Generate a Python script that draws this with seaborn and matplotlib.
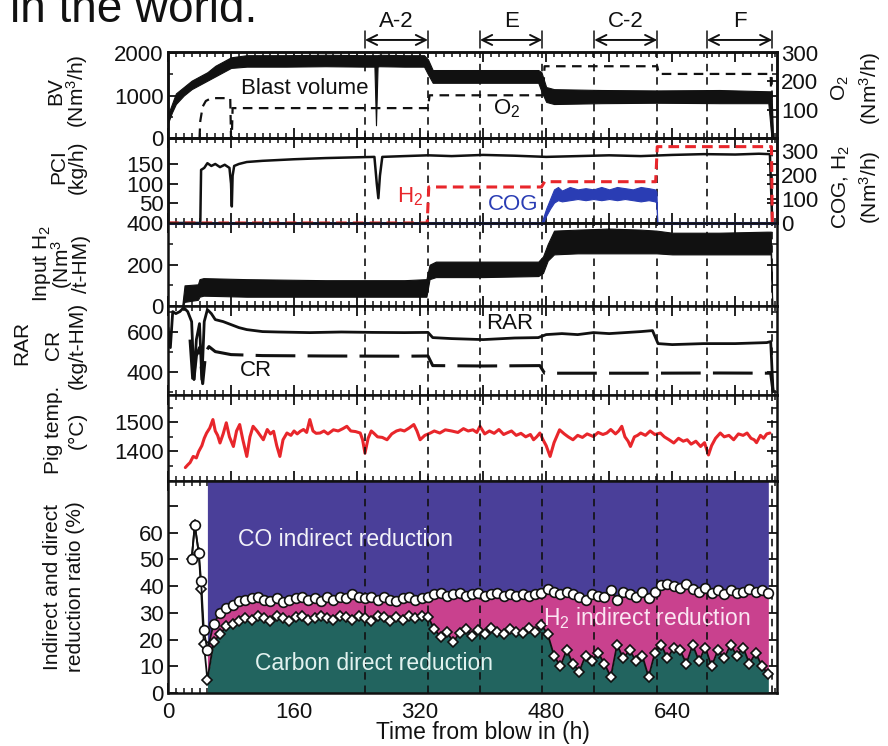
import matplotlib
matplotlib.use('Agg')
import matplotlib.pyplot as plt
import matplotlib.transforms as mtrans
from matplotlib.ticker import MultipleLocator
import seaborn as sns

# ---- phases ----
phase_lines = [250, 330, 396, 475, 541, 621, 684, 767]
phase_names = ['A-2', 'E', 'C-2', 'F']
phase_spans = [(250, 330), (396, 475), (541, 621), (684, 767)]

# ---- panel 1: blast volume (envelope) and O2 ----
bv_t = [0, 5, 10, 20, 30, 40, 50, 60, 70, 80, 100, 150, 200, 250, 262, 264, 266, 268, 300, 325, 330, 336, 345, 400, 470, 474, 480, 490, 550, 620, 700, 762, 766, 768]
bv_lo = [350, 600, 800, 1000, 1150, 1250, 1350, 1450, 1550, 1650, 1680, 1680, 1690, 1680, 1680, 300, 1680, 1690, 1680, 1680, 1500, 1300, 1300, 1300, 1300, 1100, 850, 800, 820, 830, 820, 820, 0, 0]
bv_hi = [550, 800, 1050, 1200, 1350, 1450, 1550, 1700, 1800, 1900, 1950, 1950, 1960, 1950, 1950, 1950, 1950, 1960, 1950, 1950, 1850, 1600, 1600, 1600, 1600, 1550, 1200, 1150, 1130, 1120, 1130, 1100, 1100, 0]
o2_t = [40, 41, 44, 48, 55, 78, 79, 80, 81, 82, 200, 328, 330, 332, 400, 474, 476, 478, 550, 619, 621, 623, 700, 765, 767]
o2_v = [0, 60, 110, 130, 140, 140, 140, 0, 0, 105, 105, 105, 105, 150, 150, 150, 150, 252, 252, 252, 252, 225, 225, 225, 0]

# ---- panel 2: PCI, H2, COG ----
pci_t = [0, 41, 42, 46, 50, 55, 60, 66, 72, 78, 80, 81, 82, 84, 90, 100, 120, 140, 160, 200, 240, 262, 265, 267, 269, 272, 300, 330, 360, 400, 440, 480, 520, 560, 600, 640, 680, 720, 750, 764, 767]
pci_v = [0, 0, 135, 140, 152, 145, 150, 142, 148, 140, 100, 42, 120, 145, 150, 155, 158, 160, 162, 165, 167, 168, 100, 63, 120, 168, 170, 172, 170, 173, 171, 168, 170, 172, 170, 173, 175, 174, 176, 175, 0]
h2_t = [0, 329, 331, 474, 478, 619, 621, 766, 767, 773]
h2_v = [0, 0, 150, 150, 172, 172, 318, 318, 0, 0]
cog_t = [474, 476, 480, 485, 490, 495, 500, 510, 520, 530, 540, 550, 560, 570, 580, 590, 600, 610, 618, 620, 621]
cog_lo = [0, 0, 30, 60, 85, 95, 90, 95, 100, 95, 100, 95, 100, 95, 100, 95, 90, 95, 90, 85, 0]
cog_hi = [0, 20, 60, 100, 140, 150, 135, 150, 140, 145, 140, 150, 140, 150, 145, 140, 150, 145, 140, 130, 0]

# ---- panel 3: input H2 (envelope) ----
h2in_t = [18, 21, 38, 40, 45, 100, 200, 300, 328, 332, 340, 400, 470, 476, 482, 490, 520, 560, 600, 620, 640, 700, 760, 765, 767]
h2in_lo = [0, 20, 30, 45, 50, 45, 45, 45, 45, 130, 140, 140, 145, 160, 220, 250, 255, 255, 255, 255, 250, 250, 250, 250, 0]
h2in_hi = [0, 100, 105, 130, 135, 130, 125, 125, 130, 200, 215, 215, 215, 240, 300, 365, 370, 375, 370, 365, 355, 355, 360, 360, 0]

# ---- panel 4: RAR, CR ----
rar_t = [0, 3, 6, 10, 15, 20, 25, 30, 33, 36, 40, 43, 46, 50, 55, 60, 70, 80, 90, 100, 120, 140, 180, 220, 260, 300, 330, 336, 360, 400, 440, 470, 480, 500, 520, 540, 560, 580, 600, 615, 622, 640, 680, 720, 760, 765, 768]
rar_v = [620, 520, 700, 690, 700, 720, 700, 650, 360, 560, 640, 360, 650, 710, 690, 660, 650, 635, 620, 610, 600, 598, 595, 598, 596, 595, 596, 570, 565, 560, 568, 570, 585, 590, 585, 595, 590, 595, 600, 605, 540, 535, 540, 540, 545, 550, 300]
cr_t = [28, 32, 36, 40, 44, 48, 52, 60, 80, 120, 200, 300, 330, 336, 400, 472, 478, 600, 700, 765, 768]
cr_v = [560, 330, 480, 520, 340, 500, 525, 500, 485, 480, 478, 477, 478, 430, 428, 430, 392, 392, 393, 392, 300]

# ---- panel 5: pig iron temperature ----
pig_t = [22, 25, 28, 32, 36, 39, 43, 46, 49, 53, 57, 60, 63, 66, 70, 74, 78, 83, 87, 91, 95, 100, 104, 108, 113, 117, 121, 126, 130, 134, 138, 142, 146, 151, 156, 160, 164, 168, 172, 176, 180, 184, 188, 193, 198, 203, 210, 216, 222, 227, 232, 238, 244, 247, 250, 254, 258, 261, 266, 272, 278, 284, 290, 295, 300, 306, 312, 316, 320, 326, 333, 338, 345, 352, 360, 368, 375, 381, 387, 392, 396, 402, 408, 414, 420, 426, 430, 436, 442, 448, 454, 460, 464, 468, 472, 476, 480, 485, 490, 497, 503, 508, 514, 520, 526, 532, 540, 546, 552, 557, 562, 568, 572, 576, 580, 584, 587, 592, 596, 600, 606, 612, 618, 625, 630, 636, 642, 648, 654, 659, 664, 670, 676, 681, 686, 690, 695, 701, 706, 712, 718, 724, 730, 735, 740, 744, 747, 752, 756, 760, 764]
pig_v = [1345, 1354, 1362, 1383, 1378, 1400, 1420, 1445, 1463, 1480, 1509, 1470, 1455, 1429, 1460, 1498, 1450, 1417, 1470, 1492, 1440, 1383, 1450, 1486, 1470, 1455, 1440, 1475, 1460, 1469, 1420, 1383, 1440, 1463, 1455, 1470, 1460, 1469, 1475, 1465, 1509, 1470, 1462, 1463, 1470, 1460, 1474, 1470, 1478, 1486, 1470, 1468, 1463, 1440, 1394, 1445, 1470, 1463, 1450, 1448, 1440, 1460, 1470, 1474, 1470, 1480, 1492, 1470, 1440, 1455, 1463, 1470, 1463, 1474, 1470, 1465, 1478, 1470, 1474, 1465, 1486, 1460, 1470, 1462, 1475, 1458, 1463, 1470, 1455, 1462, 1450, 1458, 1440, 1450, 1463, 1440, 1420, 1383, 1430, 1474, 1460, 1450, 1440, 1455, 1448, 1460, 1451, 1465, 1458, 1463, 1475, 1460, 1470, 1486, 1450, 1435, 1417, 1450, 1455, 1463, 1455, 1470, 1458, 1463, 1450, 1440, 1429, 1445, 1435, 1440, 1425, 1435, 1417, 1430, 1388, 1420, 1445, 1463, 1450, 1455, 1440, 1460, 1455, 1463, 1445, 1440, 1430, 1455, 1445, 1460, 1463]

# ---- panel 6: reduction ratios ----
early_t = [30, 34, 39, 42, 45.5]
early_tot = [50, 63, 52.5, 42, 23.5]
early_dir = [50, 63, 52.5, 39, 18.5]
red_t = list(range(50, 763, 8))
tot_v = [16, 26, 30, 32, 33, 34.5, 35, 35.5, 36, 35, 34.5, 35.5, 34, 35, 35.5, 36, 35, 35.5, 34.5, 36,
         35, 36, 35.5, 37, 36, 35.5, 36, 35, 36, 35, 34.5, 35.5, 36, 35, 35.5, 36, 37, 37.5, 36.5, 37,
         37.5, 36.5, 37, 37.5, 36.5, 37, 37.5, 36.5, 37, 36.5, 37, 36.5, 37, 37.5, 39, 38, 37, 38, 37, 36,
         35, 37, 36.5, 36, 38.5, 35, 38, 37, 36, 38, 35.5, 38, 40.5, 41, 40, 39.5, 41, 39, 38, 39.5,
         37.5, 38.5, 37, 38.5, 37.5, 38, 39, 38, 38.5, 37.5]
dir_v = [5, 19, 22, 25, 26, 27, 28, 27.5, 29, 28, 27, 29, 28, 27, 28.5, 29, 27.5, 28, 29, 28,
         27.5, 29, 28.5, 27.5, 29, 28, 27, 29, 28.5, 27, 28.5, 27.5, 29, 28, 29, 28.5, 24, 21, 23, 19,
         22.5, 24, 21.5, 23.5, 22, 24.5, 23, 22, 24, 23, 22.5, 24.5, 23, 25.5, 22, 14, 10, 16, 11, 8,
         14, 12, 15, 11, 6, 18, 13, 16, 12, 14, 6, 15, 18, 13, 17, 16, 11, 18, 12, 17,
         10, 16, 13, 18, 14, 17, 11, 15, 10, 7]

C_BLUE = '#4A3F99'
C_MAG = '#C9418E'
C_TEAL = '#22645F'
C_RED = '#E8262B'
C_COG = '#2A3DB4'

sns.set_theme(style='ticks')
plt.rcParams['font.family'] = ['Liberation Sans', 'DejaVu Sans']
plt.rcParams['mathtext.fontset'] = 'custom'
plt.rcParams['mathtext.rm'] = 'Liberation Sans'
plt.rcParams['mathtext.it'] = 'Liberation Sans:italic'
plt.rcParams['axes.linewidth'] = 1.8
plt.rcParams['text.color'] = '#111111'

fig = plt.figure(figsize=(8.88, 7.46), dpi=100)
gs = fig.add_gridspec(6, 1, height_ratios=[86, 85, 83, 89, 86, 212],
                      left=168/888, right=777/888, bottom=1-693/746, top=1-52/746, hspace=0)
axes = gs.subplots(sharex=True)
ax1, ax2, ax3, ax4, ax5, ax6 = axes
ax1r = ax1.twinx()
ax2r = ax2.twinx()

FS = 16
vdash = (0, (4.5, 3.5))

def style(ax, right_labels=False):
    ax.tick_params(axis='both', which='both', direction='in', top=True, right=True,
                   labelsize=FS, colors='#111111', pad=3)
    ax.tick_params(which='major', length=7, width=1.3)
    ax.tick_params(which='minor', length=3.5, width=1.1)
    ax.tick_params(axis='y', labelright=right_labels)
    for s in ax.spines.values():
        s.set_linewidth(1.8)
        s.set_color('#111111')

for ax in axes:
    ax.set_xlim(0, 773)
    ax.xaxis.set_major_locator(MultipleLocator(80))
    ax.xaxis.set_minor_locator(MultipleLocator(10))
    for x in phase_lines:
        ax.axvline(x, color='#111111', lw=1.2, ls=vdash, zorder=4)
    style(ax)

# panel 1
ax1.fill_between(bv_t, bv_lo, bv_hi, color='#111111', lw=0.8)
ax1.set_ylim(0, 2025)
ax1.set_yticks([0, 1000, 2000])
ax1.yaxis.set_minor_locator(MultipleLocator(500))
sns.lineplot(x=o2_t, y=o2_v, ax=ax1r, sort=False, estimator=None, color='#111111',
             lw=1.6, ls=(0, (4.3, 2.9)))
ax1r.set_ylim(0, 302)
ax1r.set_yticks([0, 100, 200, 300])
ax1r.set_yticklabels(['', '100', '200', '300'])
style(ax1r, right_labels=True)
ax1.text(174, 1170, 'Blast volume', fontsize=FS, ha='center', va='center',
         bbox=dict(facecolor='white', edgecolor='none', pad=1), zorder=6)
ax1.text(430, 690, 'O$_2$', fontsize=FS, ha='center', va='center', zorder=6)

# phase arrows
trans = mtrans.blended_transform_factory(ax1.transData, ax1.transAxes)
for (a, b), name in zip(phase_spans, phase_names):
    ax1.annotate('', xy=(a, 1.14), xytext=(b, 1.14), xycoords=trans, textcoords=trans,
                 arrowprops=dict(arrowstyle='<->', lw=1.4, color='#111111',
                                 mutation_scale=18, shrinkA=0, shrinkB=0), annotation_clip=False)
    for x in (a, b):
        ax1.plot([x, x], [1.05, 1.24], transform=trans, color='#111111', lw=1.1, clip_on=False)
    ax1.text((a + b) / 2, 1.36, name, transform=trans, fontsize=FS, ha='center', va='center')

# panel 2
sns.lineplot(x=pci_t, y=pci_v, ax=ax2, sort=False, estimator=None, color='#111111', lw=1.8)
ax2.set_ylim(0, 216)
ax2.set_yticks([0, 50, 100, 150])
ax2.set_yticklabels(['', '50', '100', '150'])
ax2r.fill_between(cog_t, cog_lo, cog_hi, color=C_COG, lw=0.8)
ax2r.plot([0, 476], [0, 0], color=C_COG, lw=2.2, clip_on=False)
ax2r.plot([621, 773], [0, 0], color=C_COG, lw=2.2, clip_on=False)
sns.lineplot(x=h2_t, y=h2_v, ax=ax2r, sort=False, estimator=None, color=C_RED, lw=2.2,
             ls=(0, (3.5, 2)))
ax2r.set_ylim(0, 354)
ax2r.set_yticks([0, 100, 200, 300])
style(ax2r, right_labels=True)
ax2.text(307, 66, 'H$_2$', color=C_RED, fontsize=FS, ha='center', va='center')
ax2.text(438, 46, 'COG', color=C_COG, fontsize=FS, ha='center', va='center')

# panel 3
ax3.fill_between(h2in_t, h2in_lo, h2in_hi, color='#111111', lw=0.8)
ax3.set_ylim(0, 402)
ax3.set_yticks([0, 200, 400])
ax3.yaxis.set_minor_locator(MultipleLocator(100))

# panel 4
sns.lineplot(x=rar_t, y=rar_v, ax=ax4, sort=False, estimator=None, color='#111111', lw=2.0)
sns.lineplot(x=cr_t, y=cr_v, ax=ax4, sort=False, estimator=None, color='#111111', lw=2.2,
             ls=(0, (13, 4)))
ax4.set_ylim(283, 728)
ax4.set_yticks([400, 600])
ax4.yaxis.set_minor_locator(MultipleLocator(100))
ax4.text(434, 640, 'RAR', fontsize=FS, ha='center', va='center')
ax4.text(112, 405, 'CR', fontsize=FS, ha='center', va='center')

# panel 5
sns.lineplot(x=pig_t, y=pig_v, ax=ax5, sort=False, estimator=None, color=C_RED, lw=2.2)
ax5.set_ylim(1299, 1593)
ax5.set_yticks([1400, 1500])
ax5.yaxis.set_minor_locator(MultipleLocator(50))

# panel 6
ax6.fill_between(red_t, tot_v, 100, color=C_BLUE, lw=0, zorder=1)
ax6.fill_between(red_t, dir_v, tot_v, color=C_MAG, lw=0, zorder=1)
ax6.fill_between(red_t, 0, dir_v, color=C_TEAL, lw=0, zorder=1)
mk = dict(color='#111111', lw=1.3, markerfacecolor='white', markeredgecolor='#111111',
          markeredgewidth=1.2, zorder=5)
sns.lineplot(x=early_t + red_t, y=early_dir + dir_v, ax=ax6, sort=False, estimator=None,
             marker='D', markersize=5, **mk)
sns.lineplot(x=early_t + red_t, y=early_tot + tot_v, ax=ax6, sort=False, estimator=None,
             marker='o', markersize=7, **mk)
ax6.set_ylim(0, 79.4)
ax6.set_yticks(range(0, 80, 10))
ax6.set_yticklabels(['0', '10', '20', '30', '40', '50', '60', ''])
ax6.xaxis.set_major_locator(MultipleLocator(80))
ax6.set_xticklabels([])
for xv in [0, 160, 320, 480, 640]:
    ax6.text(xv, -3.2, str(xv), fontsize=FS, ha='center', va='top', clip_on=False)
ax6.text(225, 57.5, 'CO indirect reduction', color='#F2F2F8', fontsize=16.5, ha='center', va='center', zorder=6)
ax6.text(262, 11, 'Carbon direct reduction', color='#E2F2EF', fontsize=16.5, ha='center', va='center', zorder=6)
ax6.text(607, 28, 'H$_2$ indirect reduction', color='#FBE6F2', fontsize=16.5, ha='center', va='center', zorder=6)

for ax in axes[:-1]:
    ax.tick_params(axis='x', labelbottom=False)
for ax in list(axes) + [ax1r, ax2r]:
    ax.set_xlabel('')
    ax.set_ylabel('')

fig.text(483/888, 1 - 733/746, 'Time from blow in (h)', fontsize=16.5, ha='center', va='center')

# y labels as rotated blocks (x_px, y_px, text, line spacing)
ylabels = [
    (68, 91, 'BV\n(Nm$^3$/h)', 0.95),
    (68, 167, 'PCI\n(kg/h)', 0.95),
    (61, 264, 'Input H$_2$\n(Nm$^3$\n/t-HM)', 0.78),
    (22, 343, 'RAR', 1.0),
    (65, 345, 'CR\n(kg/t-HM)', 1.3),
    (65, 430, 'Pig temp.\n(\u00b0C)', 1.3),
    (64, 587, 'Indirect and direct\nreduction ratio (%)', 1.3),
    (856, 88, 'O$_2$\n(Nm$^3$/h)', 1.3),
    (857, 187, 'COG, H$_2$\n(Nm$^3$/h)', 1.25),
]
for xp, yp, s, lsp in ylabels:
    fig.text(xp/888, 1 - yp/746, s, fontsize=15, rotation=90, ha='center', va='center',
             multialignment='center', linespacing=lsp)

fig.text(10/888, 1 - 22/746, 'in the world.', fontsize=33, ha='left', va='baseline')

fig.savefig('out.png', dpi=100)
